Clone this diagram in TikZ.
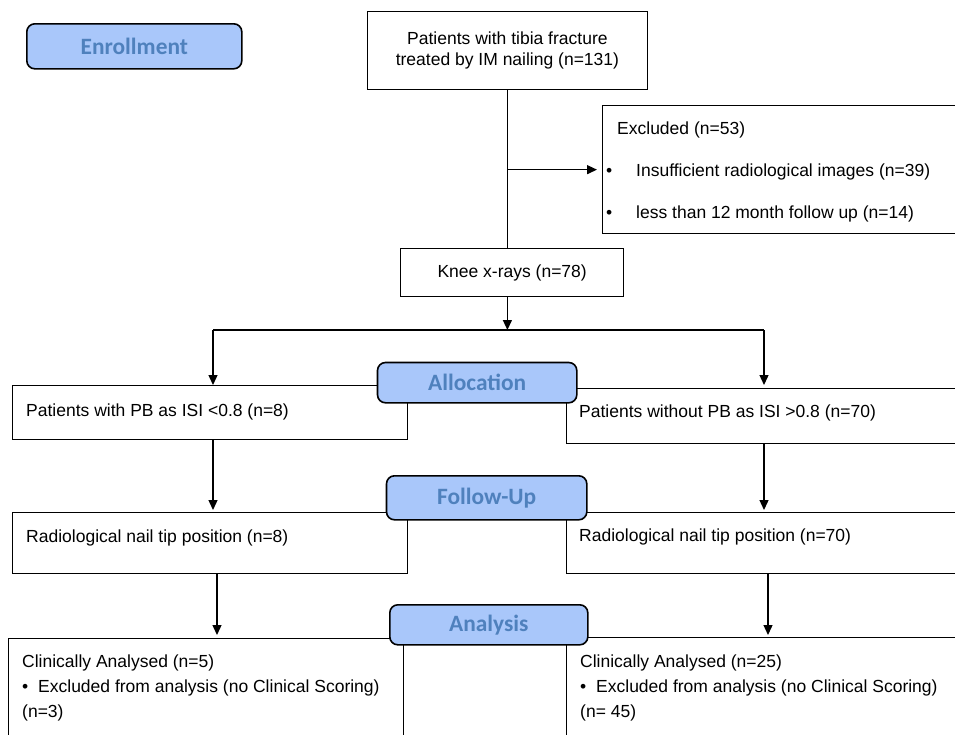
\documentclass[tikz,border=0pt]{standalone}
\usepackage{fontspec}
\setmainfont{Liberation Sans}
\newfontfamily\carlito{Carlito}
\usetikzlibrary{arrows.meta}
\definecolor{labfill}{RGB}{169,199,250}
\definecolor{labtext}{RGB}{79,129,189}
\begin{document}
\begin{tikzpicture}[x=1pt,y=-1pt,
  box/.style={draw=black, line width=1.3pt, rectangle, inner sep=0pt, anchor=north west, fill=white, font=\fontsize{17.5}{21}\selectfont},
  lbl/.style={draw=black, line width=1.6pt, rounded corners=8pt, fill=labfill, text=labtext, font=\fontsize{23.4}{26}\selectfont\carlito\bfseries, anchor=north west, inner sep=0pt},
  txt/.style={anchor=base west, inner sep=0pt, font=\fontsize{17.5}{21}\selectfont},
  ln/.style={line width=1.3pt},
  arr/.style={line width=1.3pt, -{Triangle[length=10pt,width=9pt]}}]
\useasboundingbox (0,0) rectangle (955,734);
\clip (0,0) rectangle (955,734);
% boxes
\node[box, minimum width=279.5pt, minimum height=78pt, align=center] (top) at (367,11) {Patients with tibia fracture\\treated by IM nailing (n=131)};
\node[box, minimum width=380pt, minimum height=128pt] (excl) at (602,105) {};
\node[box, minimum width=223pt, minimum height=48pt] (knee) at (400,248) {Knee x-rays (n=78)};
\node[box, minimum width=395pt, minimum height=54pt] (allocL) at (12,385) {};
\node[box, minimum width=400pt, minimum height=55pt] (allocR) at (566,388) {};
\node[box, minimum width=395pt, minimum height=61pt] (fuL) at (12,512) {};
\node[box, minimum width=400pt, minimum height=61pt] (fuR) at (566,512) {};
\node[box, minimum width=395pt, minimum height=130pt] (anL) at (8,637.7) {};
\node[box, minimum width=400pt, minimum height=130pt] (anR) at (566,637) {};
% texts
\node[txt] (ex0) at (617,134) {Excluded (n=53)};
\node[txt] (ex1) at (606,176) {\makebox[30pt][l]{\textbullet}Insufficient radiological images (n=39)};
\node[txt] (ex2) at (606,218) {\makebox[30pt][l]{\textbullet}less than 12 month follow up (n=14)};
\node[txt] (aLt) at (26,416) {Patients with PB as ISI <0.8 (n=8)};
\node[txt] (aRt) at (579,417) {Patients without PB as ISI >0.8 (n=70)};
\node[txt] (fLt) at (26,542) {Radiological nail tip position (n=8)};
\node[txt] (fRt) at (579,541) {Radiological nail tip position (n=70)};
\node[txt] (nL1) at (22,667.7) {Clinically Analysed (n=5)};
\node[txt] (nL2) at (22,692.7) {\makebox[16pt][l]{\textbullet}Excluded from analysis (no Clinical Scoring)};
\node[txt] (nL3) at (22,717.7) {(n=3)};
\node[txt] (nR1) at (580,667.7) {Clinically Analysed (n=25)};
\node[txt] (nR2) at (580,692.7) {\makebox[16pt][l]{\textbullet}Excluded from analysis (no Clinical Scoring)};
\node[txt] (nR3) at (580,717.7) {(n= 45)};
% coordinates
\coordinate (bl) at (213,330);
\coordinate (br) at (764,330);
\coordinate (bm) at (top.south |- bl);
\coordinate (thA) at (440,330);
\coordinate (thB) at (536,330);
\coordinate (cL) at (217,0);
\coordinate (cR) at (768,0);
% connectors
\draw[ln] (top.south) -- (top.south |- knee.north);
\draw[arr, shorten >=5pt] (top.south |- excl.west) -- (excl.west);
\draw[arr] (top.south |- knee.south) -- (bm);
\draw[ln] (bl) -- (br);
\draw[line width=2.6pt] (thA) -- (thB);
\draw[arr] (bl) -- (bl |- allocL.north);
\draw[arr, shorten >=3pt] (br) -- (br |- allocR.north);
\draw[arr, shorten >=2pt] (bl |- allocL.south) -- (bl |- fuL.north);
\draw[arr, shorten >=2pt] (br |- allocR.south) -- (br |- fuR.north);
\draw[arr, shorten >=2.7pt] (cL |- fuL.south) -- (cL |- anL.north);
\draw[arr, shorten >=2pt] (cR |- fuR.south) -- (cR |- anR.north);
% phase labels
\node[lbl, minimum width=215pt, minimum height=45pt] (enr) at (26,23) {Enrollment};
\node[lbl, minimum width=199.3pt, minimum height=40.3pt] (alloc) at (376.7,361.7) {Allocation};
\node[lbl, minimum width=200.3pt, minimum height=44pt] (fu) at (385.7,475) {Follow-Up};
\node[lbl, minimum width=198pt, minimum height=40pt] (ana) at (389,604) {Analysis};
\end{tikzpicture}
\end{document}
